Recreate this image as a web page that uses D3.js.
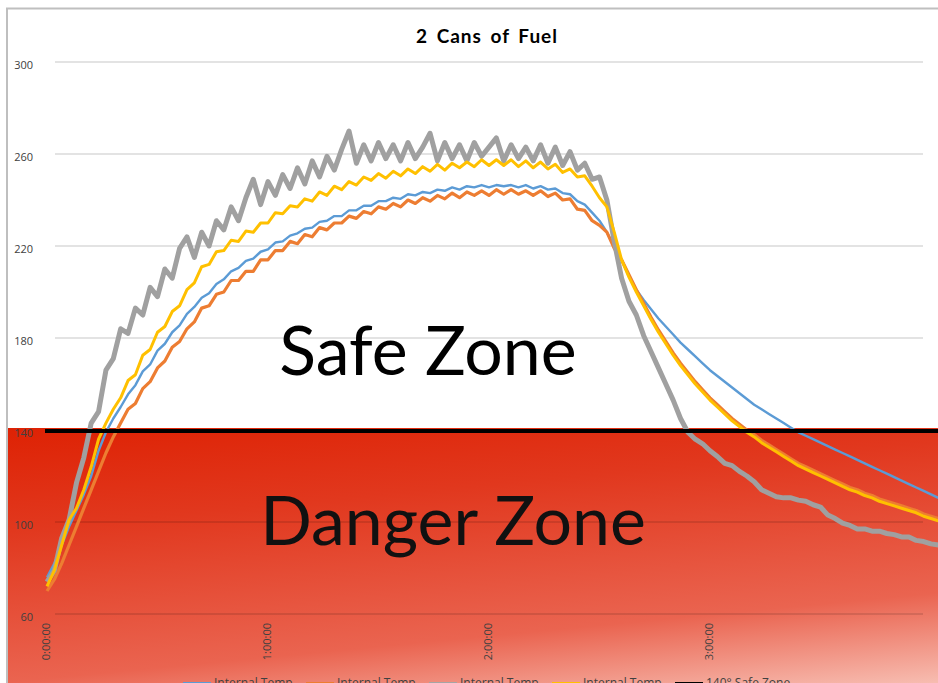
<!DOCTYPE html>
<html>
<head>
<meta charset="utf-8">
<script src="https://cdn.jsdelivr.net/npm/d3@7"></script>
<style>
  body { margin: 0; background: #fff; }
  svg { display: block; font-family: "Open Sans", sans-serif; }
</style>
</head>
<body>
<div id="chart"></div>
<script>
// boiler plate
const svgWidth = 938
const svgHeight = 683

// elapsed minutes, one reading every 2 min
const minutes = [
  0, 2, 4, 6, 8, 10, 12, 14, 16, 18,
  20, 22, 24, 26, 28, 30, 32, 34, 36, 38,
  40, 42, 44, 46, 48, 50, 52, 54, 56, 58,
  60, 62, 64, 66, 68, 70, 72, 74, 76, 78,
  80, 82, 84, 86, 88, 90, 92, 94, 96, 98,
  100, 102, 104, 106, 108, 110, 112, 114, 116, 118,
  120, 122, 124, 126, 128, 130, 132, 134, 136, 138,
  140, 142, 144, 146, 148, 150, 152, 154, 156, 158,
  160, 162, 164, 166, 168, 170, 172, 174, 176, 178,
  180, 182, 184, 186, 188, 190, 192, 194, 196, 198,
  200, 202, 204, 206, 208, 210, 212, 214, 216, 218,
  220, 222, 224, 226, 228, 230, 232, 234, 236, 238,
  240, 242
]

const blueTemp = [
  76, 82, 90, 98, 105, 112, 120, 131, 139, 145,
  150, 155.5, 159.5, 165.5, 168.5, 174.5, 177.5, 182.5, 185.5, 190.5,
  193.5, 197.5, 199.5, 203.5, 205.5, 209, 210.5, 213.5, 214.5, 217.5,
  218.5, 221.5, 222, 224.5, 225.5, 227.5, 228, 230.5, 231, 233,
  233, 235.5, 235.5, 237.5, 237.5, 239.5, 239.5, 241, 240.5, 242.5,
  242, 243.5, 243, 244.5, 244, 245.5, 244.5, 246, 245.5, 246.5,
  245.5, 246.5, 246, 246.5, 245.5, 246.5, 245, 246, 244.5, 245,
  243, 242.5, 239.5, 238, 234.5, 231, 226, 220, 214, 207,
  201, 196.5, 192.5, 188.5, 185, 181.5, 178, 175, 172, 169,
  166, 163.5, 161, 158.5, 156, 153.5, 151, 149, 147, 145,
  143, 141, 139, 137.5, 136, 134.5, 133, 131.5, 130, 128.5,
  127, 125.5, 124, 122.5, 121, 119.5, 118, 116.5, 115, 113.5,
  112, 110.5
]

const orangeTemp = [
  70, 75, 82, 90, 98, 106, 114, 122, 130, 137,
  143, 149, 151.5, 158, 161, 167, 170, 176, 178.5, 184,
  187, 193, 194, 199, 200, 205, 205, 209, 209, 214,
  214, 218, 218, 222, 221, 225, 224, 228, 227, 230,
  230, 233, 232, 235, 234, 237, 236, 238.5, 237, 240,
  238.5, 241, 239.5, 242, 240.5, 243, 241, 243.5, 242, 244,
  242, 244.5, 242.5, 244.5, 242.5, 244, 242, 244, 241.5, 243,
  240, 240.5, 236, 235.5, 231, 229, 226, 219, 214, 207.5,
  201, 195, 189, 183.5, 178.5, 173.5, 169, 165, 161, 157.5,
  154, 151, 148, 145, 142.5, 140, 138, 135.5, 133.5, 131.5,
  129.5, 127.5, 125.5, 124, 122.5, 121, 119.5, 118, 116.5, 115,
  114, 112.5, 111.5, 110, 109, 108, 107, 106, 105, 103.5,
  102.5, 101.5
]

const grayTemp = [
  74, 79, 93, 101, 117, 128, 143, 148, 166, 171,
  184, 182, 193, 190, 202, 198, 210, 206, 219, 224,
  215, 226, 220, 231, 227, 237, 231, 241, 249, 238,
  248, 242, 251, 245, 254, 247, 257, 250, 259, 253,
  262, 270, 256, 264, 257, 265, 258, 264, 257, 265,
  258, 263, 269, 257, 265, 258, 264, 257, 265, 259,
  263, 267, 257, 264, 258, 263, 257, 264, 256, 263,
  255, 261, 253, 256, 249, 250, 240, 222, 206, 196,
  190, 181, 174, 167, 160, 153, 145, 139, 136, 134,
  131, 128.5, 125.5, 124.5, 122, 120, 117.5, 114, 112.5, 111,
  110.5, 110.5, 109.5, 109, 107.5, 106.5, 103, 101.5, 99.5, 98.5,
  97, 97, 96, 96, 95, 94.5, 93.5, 93.5, 92, 91.5,
  90.5, 90
]

const yellowTemp = [
  72, 79, 90, 101, 106, 114, 124, 136, 143, 149,
  154, 161.5, 164, 172.5, 175, 182.5, 185, 191.5, 194, 201,
  204, 211, 212, 217.5, 218, 222.5, 222, 226.5, 226, 230,
  230, 234.5, 234, 237.5, 237, 240.5, 239.5, 243.5, 242, 246,
  244.5, 248, 246.5, 250, 248.5, 251.5, 249.5, 252.5, 250.5, 253.5,
  251.5, 254.5, 252.5, 255.5, 253, 256, 254, 256.5, 254.5, 257.5,
  255, 257.5, 255, 257.5, 254.5, 257, 254, 256.5, 253.5, 255.5,
  252, 253.5, 250, 250.5, 246, 241, 237, 226, 214, 206.5,
  200, 194, 188, 182.5, 177.5, 172.5, 168, 164, 160, 156.5,
  153, 150, 147, 144, 141.5, 139, 137, 134.5, 132.5, 130.5,
  128.5, 126.5, 124.5, 123, 121.5, 120, 118.5, 117, 115.5, 114,
  113, 111.5, 110.5, 109, 108, 107, 106, 105, 104, 102.5,
  101.5, 100.5
]

const safeTemp = 140
const yTicks = [60, 100, 140, 180, 220, 260, 300]
const xTicks = [0, 60, 120, 180]
const xTickLabels = ["0:00:00", "1:00:00", "2:00:00", "3:00:00"]
const legendLabels = ["Internal Temp", "Internal Temp", "Internal Temp", "Internal Temp", "140° Safe Zone"]
const colors = ["#5b9bd5", "#ed7d31", "#a5a5a5", "#ffc000", "#000000"]

let svg = d3
  .select("#chart")
  .append("svg")
  .attr("width", svgWidth)
  .attr("height", svgHeight)

// scales
let x = d3.scaleLinear().domain([0, 240]).range([47, 931])
let y = d3.scaleLinear().domain([60, 300]).range([614, 62])

let defs = svg.append("defs")

// danger zone gradient
let grad = defs.append("linearGradient")
  .attr("id", "danger")
  .attr("x1", 0).attr("y1", 0)
  .attr("x2", 0.42).attr("y2", 1.2)
grad.append("stop").attr("offset", 0).attr("stop-color", "#de2204")
grad.append("stop").attr("offset", 0.3).attr("stop-color", "#e1381e")
grad.append("stop").attr("offset", 0.74).attr("stop-color", "#ea6450")
grad.append("stop").attr("offset", 1).attr("stop-color", "#f7bcb0")

// soft edge for the lines
defs.append("filter")
  .attr("id", "soft")
  .append("feGaussianBlur")
  .attr("stdDeviation", 0.5)

svg.append("rect")
  .attr("x", 8)
  .attr("y", y(safeTemp) - 2)
  .attr("width", svgWidth - 8)
  .attr("height", svgHeight - y(safeTemp) + 2)
  .attr("fill", "url(#danger)")

// frame
svg.append("path")
  .attr("d", `M7,${svgHeight} V8.5 H${svgWidth}`)
  .attr("fill", "none")
  .attr("stroke", "#bfbfbf")
  .attr("stroke-width", 2)

// gridlines
svg.append("g")
  .selectAll("line")
  .data(yTicks)
  .enter()
  .append("line")
  .attr("x1", 55)
  .attr("x2", 923)
  .attr("y1", d => y(d))
  .attr("y2", d => y(d))
  .attr("stroke", "#000")
  .attr("stroke-opacity", 0.15)
  .attr("stroke-width", 1.3)

// y labels
svg.append("g")
  .selectAll("text")
  .data(yTicks)
  .enter()
  .append("text")
  .attr("x", 33)
  .attr("y", d => y(d) + 3)
  .attr("dy", "0.35em")
  .attr("text-anchor", "end")
  .attr("font-size", 11)
  .attr("fill", "#404040")
  .text(d => d)

// x labels, rotated
svg.append("g")
  .selectAll("text")
  .data(xTicks)
  .enter()
  .append("text")
  .attr("transform", d => `translate(${x(d) - 1}, 623) rotate(-90)`)
  .attr("dy", "0.35em")
  .attr("text-anchor", "end")
  .attr("font-size", 11)
  .attr("fill", "#404040")
  .text((d, i) => xTickLabels[i])

// series lines
let line = d3.line()
  .x((d, i) => x(minutes[i]))
  .y(d => y(d))

let series = [
  { values: blueTemp, color: colors[0], width: 2.4 },
  { values: orangeTemp, color: colors[1], width: 3.2 },
  { values: grayTemp, color: "#a0a0a0", width: 5 },
  { values: yellowTemp, color: colors[3], width: 3 }
]

svg.append("g")
  .attr("filter", "url(#soft)")
  .selectAll("path")
  .data(series)
  .enter()
  .append("path")
  .attr("d", d => line(d.values))
  .attr("fill", "none")
  .attr("stroke", d => d.color)
  .attr("stroke-width", d => d.width)
  .attr("stroke-linejoin", "round")

// 140 safe line
svg.append("line")
  .attr("x1", x(0) - 2)
  .attr("x2", svgWidth)
  .attr("y1", y(safeTemp) + 1)
  .attr("y2", y(safeTemp) + 1)
  .attr("stroke", colors[4])
  .attr("stroke-width", 4)

// title
svg.append("text")
  .attr("x", 487)
  .attr("y", 43)
  .attr("text-anchor", "middle")
  .attr("font-family", "Lato, sans-serif")
  .attr("font-weight", "bold")
  .attr("font-size", 19)
  .attr("letter-spacing", 1)
  .attr("word-spacing", 3)
  .attr("fill", "#000")
  .text("2 Cans of Fuel")

// zone labels
svg.append("text")
  .attr("x", 428)
  .attr("y", 375)
  .attr("text-anchor", "middle")
  .attr("font-family", "Lato, sans-serif")
  .attr("font-size", 68)
  .attr("fill", "#000")
  .text("Safe Zone")

svg.append("text")
  .attr("x", 453)
  .attr("y", 545)
  .attr("text-anchor", "middle")
  .attr("font-family", "Lato, sans-serif")
  .attr("font-size", 68)
  .attr("fill", "#111")
  .text("Danger Zone")

// legend (cut off at the bottom edge)
let legend = svg.append("g")
  .selectAll("g")
  .data(legendLabels)
  .enter()
  .append("g")
  .attr("transform", (d, i) => `translate(${183 + 123 * i}, 0)`)

legend.append("rect")
  .attr("x", 0)
  .attr("y", 682)
  .attr("width", 28)
  .attr("height", 5)
  .attr("fill", (d, i) => colors[i])

legend.append("text")
  .attr("x", 31)
  .attr("y", 687)
  .attr("font-size", 12)
  .attr("fill", "#404040")
  .text(d => d)
</script>
</body>
</html>
